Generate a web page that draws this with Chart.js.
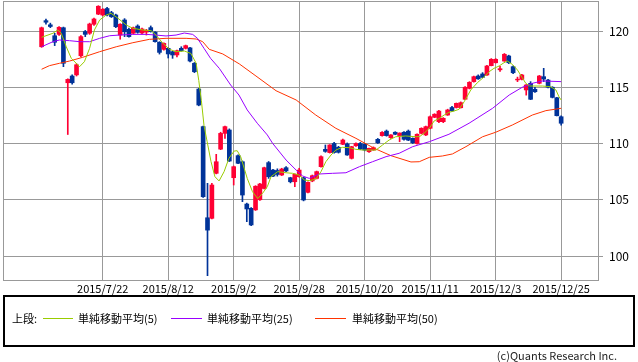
<!DOCTYPE html>
<html><head><meta charset="utf-8">
<script src="https://cdn.jsdelivr.net/npm/chart.js@4.4.0/dist/chart.umd.min.js"></script>
<style>
html,body{margin:0;padding:0;background:#fff;width:638px;height:362px;overflow:hidden;font-family:"Noto Sans CJK JP","Noto Sans",sans-serif;color:#000;}
#wrap{position:absolute;left:0;top:0;width:638px;height:296px;}
#lgbox{position:absolute;left:3px;top:295px;width:628px;height:48px;border:2px solid #000;}
.lt{position:absolute;top:310px;font-size:11px;line-height:16px;white-space:nowrap;}
.ll{position:absolute;top:318px;height:1px;}
#copy{position:absolute;right:21px;top:348px;font-size:11px;line-height:14px;color:#222;white-space:nowrap;}
</style></head>
<body>
<div id="wrap"><canvas id="c" width="638" height="296"></canvas></div>
<div id="lgbox"></div>
<div class="lt" style="left:12px">上段:</div>
<div class="ll" style="left:43px;width:30px;background:#99cc00"></div>
<div class="lt" style="left:78px">単純移動平均(5)</div>
<div class="ll" style="left:171px;width:31px;background:#9900ff"></div>
<div class="lt" style="left:207px">単純移動平均(25)</div>
<div class="ll" style="left:315px;width:31px;background:#ff3300"></div>
<div class="lt" style="left:352px">単純移動平均(50)</div>
<div id="copy">(c)Quants Research Inc.</div>
<script>
const dates = [
"2015/7/1","2015/7/2","2015/7/3","2015/7/6","2015/7/7","2015/7/8","2015/7/9","2015/7/10","2015/7/13","2015/7/14","2015/7/15","2015/7/16","2015/7/17","2015/7/21","2015/7/22","2015/7/23","2015/7/24","2015/7/27","2015/7/28","2015/7/29","2015/7/30","2015/7/31",
"2015/8/3","2015/8/4","2015/8/5","2015/8/6","2015/8/7","2015/8/10","2015/8/11","2015/8/12","2015/8/13","2015/8/14","2015/8/17","2015/8/18","2015/8/19","2015/8/20","2015/8/21","2015/8/24","2015/8/25","2015/8/26","2015/8/27","2015/8/28","2015/8/31",
"2015/9/1","2015/9/2","2015/9/3","2015/9/4","2015/9/7","2015/9/8","2015/9/9","2015/9/10","2015/9/11","2015/9/14","2015/9/15","2015/9/16","2015/9/17","2015/9/18","2015/9/24","2015/9/25","2015/9/28","2015/9/29","2015/9/30",
"2015/10/1","2015/10/2","2015/10/5","2015/10/6","2015/10/7","2015/10/8","2015/10/9","2015/10/13","2015/10/14","2015/10/15","2015/10/16","2015/10/19","2015/10/20","2015/10/21","2015/10/22","2015/10/23","2015/10/26","2015/10/27","2015/10/28","2015/10/29","2015/10/30",
"2015/11/2","2015/11/4","2015/11/5","2015/11/6","2015/11/9","2015/11/10","2015/11/11","2015/11/12","2015/11/13","2015/11/16","2015/11/17","2015/11/18","2015/11/19","2015/11/20","2015/11/24","2015/11/25","2015/11/26","2015/11/27","2015/11/30",
"2015/12/1","2015/12/2","2015/12/3","2015/12/4","2015/12/7","2015/12/8","2015/12/9","2015/12/10","2015/12/11","2015/12/14","2015/12/15","2015/12/16","2015/12/17","2015/12/18","2015/12/21","2015/12/22","2015/12/24","2015/12/25"];

const open = [118.6,120.92,120.55,119.58,119.7,120.29,115.4,116.0,116.1,117.8,119.95,119.8,120.6,121.5,121.42,122.0,121.63,121.42,119.64,120.98,
120.15,119.8,120.44,119.82,119.9,120.3,119.9,119.0,118.37,118.46,118.16,117.87,118.46,118.46,118.5,117.13,114.84,111.5,103.4,103.35,
107.35,109.5,110.9,111.2,106.96,108.92,108.38,104.62,104.24,104.1,105.0,106.0,108.3,107.64,107.6,107.2,107.85,106.96,106.6,107.05,
106.96,105.66,106.67,106.9,107.94,109.48,109.19,110.0,109.66,109.93,109.96,108.68,109.8,110.0,109.93,109.27,109.42,110.37,110.7,111.1,
110.52,111.0,110.7,111.0,111.1,110.46,110.0,110.9,110.76,111.35,112.33,111.94,111.94,112.53,113.2,113.2,113.18,113.93,114.9,115.5,
116.0,116.18,116.09,116.92,117.18,116.55,117.33,117.78,116.83,115.65,115.7,114.76,115.35,114.82,115.35,115.94,115.64,115.0,114.07,112.38];
const high = [120.35,121.07,120.7,119.8,120.4,120.35,115.75,116.1,117.1,119.6,120.05,120.7,121.15,122.25,122.0,122.1,121.75,121.5,120.65,121.1,
120.25,120.35,120.55,120.25,120.15,120.45,119.95,119.05,118.95,118.5,118.2,118.3,118.6,118.75,118.55,117.2,114.9,111.55,106.46,106.46,
109.04,111.0,111.55,111.3,108.0,109.0,108.45,104.7,104.3,106.25,106.46,107.9,108.4,107.7,107.75,107.8,107.95,107.0,107.3,107.8,
107.0,106.6,107.2,107.55,108.9,109.87,109.9,110.1,109.75,110.4,110.05,109.75,110.05,110.1,110.0,109.6,109.7,110.45,111.05,111.2,
110.8,111.05,110.95,111.05,111.2,110.5,110.85,111.4,111.55,112.45,112.65,112.95,112.3,113.05,113.3,113.6,113.7,115.05,115.5,116.0,
116.1,116.3,116.95,117.55,117.55,116.85,118.0,117.85,116.9,115.9,116.15,115.25,115.5,115.0,116.05,116.68,115.7,115.05,114.1,112.45];
const low = [118.55,120.6,120.3,118.7,119.6,116.83,110.8,115.27,116.0,117.7,119.5,119.7,120.5,121.45,121.35,121.35,121.2,120.3,119.27,119.5,
119.45,119.75,119.8,119.75,119.64,119.9,119.0,117.95,118.3,117.6,117.57,117.7,118.2,118.4,117.25,116.3,113.35,105.2,98.25,103.3,
107.3,109.45,110.46,108.4,106.31,108.2,104.83,103.05,102.7,104.05,104.95,105.95,106.9,107.05,107.1,107.15,107.5,106.5,106.16,107.0,
104.9,105.6,106.6,106.85,107.9,109.22,109.15,109.15,109.15,109.9,108.95,108.62,109.75,109.45,109.35,109.2,109.4,110.0,110.65,110.65,
110.45,110.78,110.16,110.3,110.25,110.0,109.95,110.85,110.7,111.3,112.3,111.85,111.85,112.5,112.85,113.15,113.15,113.9,114.85,115.45,
115.7,115.85,116.05,116.9,117.15,116.4,117.3,117.1,116.2,115.5,115.65,114.3,113.9,114.55,115.3,115.5,114.95,114.05,112.45,111.64];
const close = [120.29,120.78,120.4,119.0,120.33,117.13,115.7,115.4,117.0,119.5,119.7,120.62,121.07,122.2,121.93,121.42,121.27,120.38,120.6,119.94,
119.5,120.29,119.88,120.18,120.05,119.94,119.05,118.1,118.9,117.96,117.87,118.25,118.25,118.7,117.33,116.38,113.42,105.27,102.3,106.31,
108.38,110.9,111.5,108.44,107.94,108.24,105.42,104.18,102.76,106.2,106.4,107.85,107.05,107.1,107.25,107.73,107.56,106.6,107.26,107.64,
104.98,106.55,107.14,107.5,108.83,109.3,109.87,109.2,109.22,110.31,108.98,109.72,110.0,109.5,109.42,109.57,109.63,110.07,110.99,110.7,
110.76,110.82,110.93,110.37,110.3,110.07,110.82,111.35,111.5,112.38,112.6,112.88,112.24,112.98,112.9,113.57,113.63,115.0,115.44,115.94,
115.75,115.88,116.89,117.48,117.48,116.65,117.93,117.18,116.29,115.72,116.09,115.2,113.93,114.6,116.0,115.73,115.0,114.1,112.47,111.8];

const sma5 = [[0,119.44],[2.6,119.8],[3.7,120.09],[4.5,119.8],[5.65,118.6],[6.8,117.57],[8.7,116.83],[9.8,117.27],[11,118.46],[12.1,120.09],[13.3,120.98],[14.8,121.42],[15.9,121.57],[17.5,121.13],[19.4,120.53],[20.9,120.24],[23.2,120.09],[25.1,120.03],[26.2,119.64],[27.8,118.9],[29.3,118.37],[30.8,118.16],[32.7,118.22],[34.2,118.0],[35.4,117.13],[36.0,115.6],[36.6,113.8],[37.2,111.6],[37.9,110.2],[38.8,108.4],[39.7,107.05],[40.65,106.67],[41.8,107.5],[42.9,108.68],[44.1,109.33],[44.8,109.36],[45.6,108.83],[46.4,107.8],[47.1,106.9],[48.3,105.72],[49.5,105.1],[50.6,105.57],[51.7,106.16],[52.55,107.05],[54.1,107.5],[56,107.4],[57.5,107.35],[58.9,107.2],[60.2,106.76],[61.3,106.7],[62.8,106.82],[64,107.5],[65.1,108.38],[66.3,108.98],[67.4,109.42],[68.9,109.66],[70.5,109.63],[72,109.48],[73.5,109.42],[76.6,109.42],[78.1,109.87],[79.6,110.31],[81.1,110.6],[83.4,110.67],[85.7,110.6],[86.6,110.62],[87.6,110.91],[88.8,111.35],[89.9,112.0],[91.1,112.24],[92.2,112.53],[93.3,112.77],[94.5,112.89],[95.6,113.04],[96.8,113.72],[98.3,114.76],[99.8,115.4],[101.4,115.94],[102.5,116.38],[103.6,116.68],[104.8,116.89],[105.9,117.18],[106.7,117.33],[107.8,117.04],[109,116.53],[110.1,115.85],[110.9,115.35],[111.8,115.11],[114.7,115.11],[116.6,115.05],[117.8,114.76],[118.5,114.16],[119,113.87]];
const sma25 = [[0,118.6],[2.6,119.05],[4.1,119.2],[6.4,119.14],[8.7,119.05],[11,119.05],[13.3,119.35],[15.6,119.58],[17.8,119.64],[20.9,119.7],[24,119.7],[26.2,119.64],[28.5,119.56],[30.8,119.64],[32.7,119.82],[34.6,119.7],[35.7,119.35],[37.2,118.46],[38.7,117.57],[40.7,116.68],[43.3,115.2],[45.2,114.31],[47.1,112.98],[49.4,111.8],[51.7,110.76],[52.9,110.02],[56,108.53],[58.3,107.64],[59.8,107.11],[61.3,106.9],[63.6,107.29],[66.6,107.35],[69.7,107.4],[72.8,107.94],[75.8,108.38],[78.9,108.83],[81.9,109.13],[85,109.72],[88.8,110.16],[93.3,110.82],[97.9,111.8],[103.3,113.13],[107.1,114.31],[110.1,115.0],[112.4,115.35],[114.7,115.56],[119,115.5]];
const sma50 = [[0,116.6],[1.8,116.92],[4.1,117.13],[6.4,117.33],[9.4,117.66],[13.3,118.16],[17.1,118.6],[20.9,118.96],[24.7,119.26],[28.5,119.35],[33.1,119.35],[35.4,119.29],[36.9,119.05],[38.4,118.37],[41.5,117.96],[45.3,117.07],[49.1,116.0],[53.7,114.69],[58.3,113.87],[62.8,112.53],[67.4,111.35],[72,110.46],[76.2,109.57],[80,108.92],[84.6,108.36],[86.5,108.38],[88.8,108.77],[91.8,108.89],[94.1,109.07],[97.2,109.72],[101,110.6],[104,111.0],[107.8,111.64],[112.4,112.53],[115.5,112.92],[119,113.13]];

const tickIdx = [14,29,44,59,74,89,104,119];
const yTicks = [100,105,110,115,120];

const UP = '#ff0033', DOWN = '#003399';
const candleColor = i => close[i] >= open[i] ? UP : DOWN;
const bodies = dates.map((d,i)=>({x:i, y:[open[i], close[i]]}));
const wicks = dates.map((d,i)=>({x:i, y:[low[i], high[i]]}));
const pts = arr => arr.map(p=>({x:p[0], y:p[1]}));

const frame = {
  id:'frame',
  afterDraw(chart){
    const a = chart.chartArea, ctx = chart.ctx;
    ctx.save(); ctx.strokeStyle='#999'; ctx.lineWidth=1;
    ctx.strokeRect(Math.round(a.left)+0.5, Math.round(a.top)+0.5, Math.round(a.right-a.left), Math.round(a.bottom-a.top));
    ctx.restore();
  }
};

new Chart(document.getElementById('c'), {
  type:'bar',
  data:{datasets:[
    {type:'line', data:pts(sma5), borderColor:'#99cc00', borderWidth:1, pointRadius:0, tension:0, order:0},
    {type:'line', data:pts(sma25), borderColor:'#9900ff', borderWidth:1, pointRadius:0, tension:0, order:0},
    {type:'line', data:pts(sma50), borderColor:'#ff3300', borderWidth:1, pointRadius:0, tension:0, order:0},
    {type:'bar', data:bodies, backgroundColor:ctx=>candleColor(ctx.dataIndex), borderWidth:0, barThickness:4, grouped:false, order:1},
    {type:'bar', data:wicks, backgroundColor:ctx=>candleColor(ctx.dataIndex), borderWidth:0, barThickness:1, grouped:false, order:2}
  ]},
  options:{
    responsive:false, animation:false, devicePixelRatio:1,
    layout:{padding:{left:3, top:1, right:0, bottom:0}},
    plugins:{legend:{display:false}, tooltip:{enabled:false}},
    scales:{
      x:{type:'linear', min:-8.84, max:127.44, offset:false,
         grid:{color:'#999', offset:false, drawTicks:false, lineWidth:1},
         border:{color:'#999'},
         afterBuildTicks:s=>{s.ticks = tickIdx.map(v=>({value:v}));},
         afterFit:s=>{s.height=16; s.paddingLeft=0; s.paddingRight=0;},
         ticks:{autoSkip:false, maxRotation:0, padding:2, color:'#000', font:{family:'"Noto Sans CJK JP"', size:11}, callback:v=>dates[v]}},
      y:{type:'linear', position:'right', min:97.867, max:122.667,
         grid:{color:'#999', drawTicks:true, tickLength:5, lineWidth:1},
         border:{color:'#999'},
         afterBuildTicks:s=>{s.ticks = yTicks.map(v=>({value:v}));},
         afterFit:s=>{s.width=40; s.paddingTop=0; s.paddingBottom=0;},
         ticks:{padding:6, color:'#000', font:{family:'"Noto Sans CJK JP"', size:12}}}
    }
  },
  plugins:[frame]
});
</script>
</body></html>
